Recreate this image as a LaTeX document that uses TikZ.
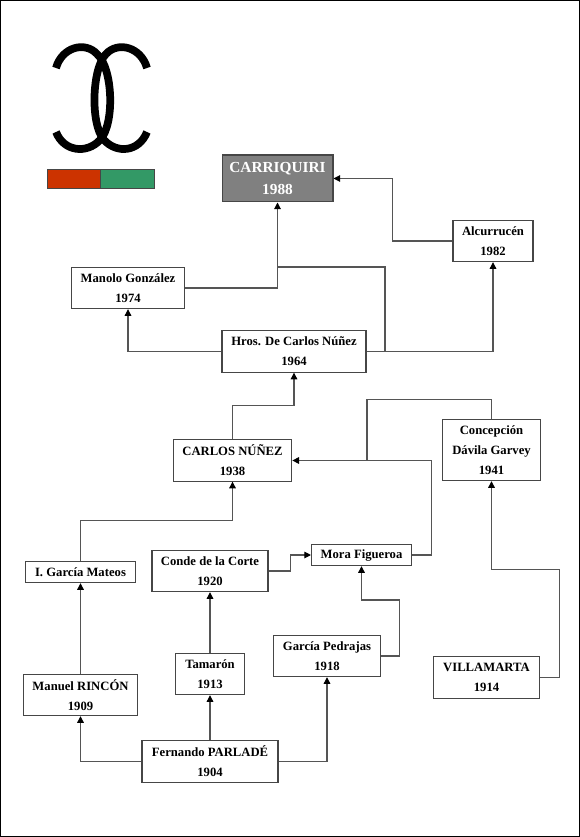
\documentclass[tikz,border=0pt]{standalone}
\usepackage{fontspec}
\setmainfont{Liberation Serif}
\definecolor{boxline}{RGB}{70, 70, 70}
\definecolor{linkgray}{RGB}{85, 85, 85}
\definecolor{topgray}{RGB}{128, 128, 128}
\definecolor{stripered}{RGB}{204, 51, 0}
\definecolor{stripegreen}{RGB}{51, 153, 102}
\usetikzlibrary{arrows.meta, positioning}
\tikzset{
  farm/.style={draw=boxline, fill=white, line width=0.8pt, inner sep=0pt, align=center,
    font=\fontsize{9.5}{15}\selectfont\bfseries},
  link/.style={draw=linkgray, line width=0.8pt},
  arr/.style={link, -{Triangle[length=5pt, width=5pt, color=black]}},
  stripe/.style={draw=boxline, line width=0.7pt}
}

\begin{document}
\begin{tikzpicture}[x=0.75pt, y=-0.75pt]
  \useasboundingbox (0,0) rectangle (580,837);
  \draw[black, line width=1pt] (0.7,0.7) rectangle (579.3,836.3);

  \draw[black, line width=5.8pt] (147,68) .. controls (141,47) and (118,41) .. (106,54)
    .. controls (92,68) and (90,124) .. (104,140) .. controls (117,154) and (139,152) .. (147,132);
  \draw[black, line width=5.8pt] (56,68) .. controls (62,47) and (85,41) .. (97,54)
    .. controls (113,68) and (115,124) .. (100,140) .. controls (87,154) and (64,152) .. (56,132);
  \draw[stripe, fill=stripered] (47,169) rectangle (100.5,188);
  \draw[stripe, fill=stripegreen] (100.5,169) rectangle (154,188);

  \node[farm, fill=topgray, text=white, line width=1pt, minimum width=83pt, minimum height=35pt,
    font=\fontsize{11.5}{17}\selectfont\bfseries] (carriquiri) at (277.5,178.5) {CARRIQUIRI\\1988};
  \node[farm, minimum width=60pt, minimum height=31pt] (alcurrucen) at (493,241) {Alcurrucén\\1982};
  \node[farm, minimum width=85pt, minimum height=31pt] (manolo) at (128,288) {Manolo González\\1974};
  \node[farm, minimum width=108pt, minimum height=31pt] (hros) at (294,351.5) {Hros. De Carlos Núñez\\1964};
  \node[farm, minimum width=89pt, minimum height=31pt] (carlos) at (232.5,460.5) {CARLOS NÚÑEZ\\1938};
  \node[farm, minimum width=73pt, minimum height=46pt] (concepcion) at (491.5,450) {Concepción\\Dávila Garvey\\1941};
  \node[farm, minimum width=82pt, minimum height=16pt] (igarcia) at (80.5,572) {I. García Mateos};
  \node[farm, minimum width=87pt, minimum height=31pt] (conde) at (210,571) {Conde de la Corte\\1920};
  \node[farm, minimum width=75pt, minimum height=16pt] (mora) at (361.5,555) {Mora Figueroa};
  \node[farm, minimum width=86pt, minimum height=31pt] (rincon) at (80.5,695) {Manuel RINCÓN\\1909};
  \node[farm, minimum width=52pt, minimum height=31pt] (tamaron) at (210,674) {Tamarón\\1913};
  \node[farm, minimum width=80pt, minimum height=31pt] (garcia) at (327,656) {García Pedrajas\\1918};
  \node[farm, minimum width=80pt, minimum height=31pt] (villamarta) at (486.5,677.5) {VILLAMARTA\\1914};
  \node[farm, minimum width=102pt, minimum height=31pt] (parlade) at (210,761.5) {Fernando PARLADÉ\\1904};

  \coordinate (hrosbend) at (385,267);
  \coordinate (hrosjoin) at (277.5,267);
  \coordinate (concepjoin) at (367,460.5);

  \draw[arr] (manolo.east) -| (carriquiri.south);
  \draw[arr] (alcurrucen.west) -- ++(-60,0) |- (carriquiri.east);
  \draw[link] (hros.east) -| (hrosbend) -- (hrosjoin);
  \draw[arr] (hros.east) -| (alcurrucen.south);
  \draw[arr] (hros.west) -| (manolo.south);
  \draw[arr] (carlos.north) -- ++(0,-34) -| (hros.south);
  \draw[link] (concepcion.north) -- ++(0,-19) -| (concepjoin);
  \draw[arr] (mora.east) -- ++(19,0) |- (carlos.east);
  \draw[arr] (villamarta.east) -- ++(19,0) -- ++(0,-108) -| (concepcion.south);
  \draw[arr] (igarcia.north) -- ++(0,-40) -| (carlos.south);
  \draw[arr] (rincon.north) -- (igarcia.south);
  \draw[arr] (parlade.west) -| (rincon.south);
  \draw[arr] (parlade.north) -- (tamaron.south);
  \draw[arr] (tamaron.north) -- (conde.south);
  \draw[arr] (parlade.east) -| (garcia.south);
  \draw[arr] (garcia.east) -- ++(19,0) -- ++(0,-56) -| (mora.south);
  \draw[arr] (conde.east) -- ++(22,0) |- (mora.west);
\end{tikzpicture}
\end{document}
